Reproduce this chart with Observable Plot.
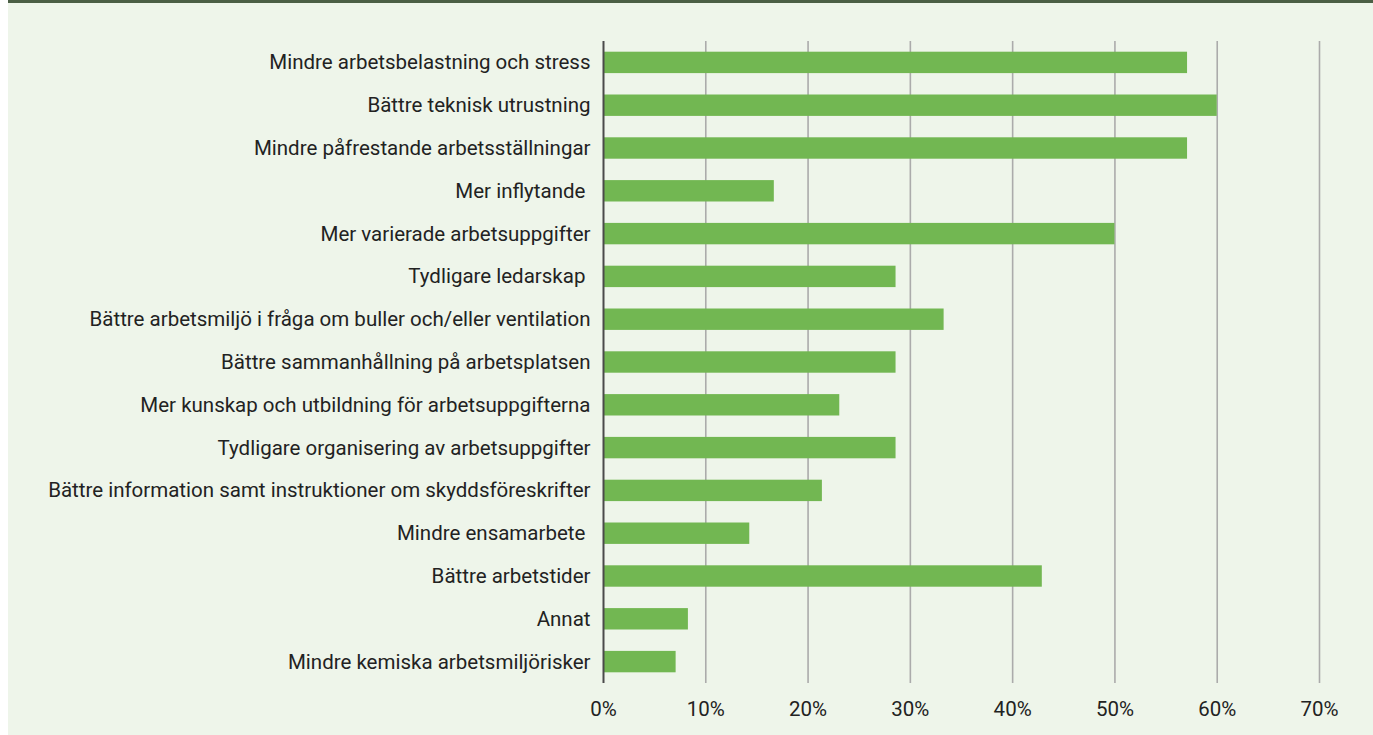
<!DOCTYPE html>
<html>
<head>
<meta charset="utf-8">
<script src="https://cdn.jsdelivr.net/npm/d3@7"></script>
<script src="https://cdn.jsdelivr.net/npm/@observablehq/plot@0.6"></script>
<style>
  html, body { margin: 0; padding: 0; background: #ffffff; }
  #frame {
    margin-left: 8px;
    width: 1365px;
    border-top: 3px solid #4b5f45;
    background: #eef5ea;
  }
  #frame svg { display: block; background: transparent; }
</style>
</head>
<body>
<div id="frame"></div>
<script>
// Svar i procent per förbättringsområde, i visningsordning uppifrån
const categories = [
  "Mindre arbetsbelastning och stress",
  "Bättre teknisk utrustning",
  "Mindre påfrestande arbetsställningar",
  "Mer inflytande ",
  "Mer varierade arbetsuppgifter",
  "Tydligare ledarskap ",
  "Bättre arbetsmiljö i fråga om buller och/eller ventilation",
  "Bättre sammanhållning på arbetsplatsen",
  "Mer kunskap och utbildning för arbetsuppgifterna",
  "Tydligare organisering av arbetsuppgifter",
  "Bättre information samt instruktioner om skyddsföreskrifter",
  "Mindre ensamarbete ",
  "Bättre arbetstider",
  "Annat",
  "Mindre kemiska arbetsmiljörisker"
];
const values = [57.1, 60.0, 57.1, 16.7, 50.0, 28.6, 33.3, 28.6, 23.1, 28.6, 21.4, 14.3, 42.9, 8.3, 7.1];
const xTicks = [0, 10, 20, 30, 40, 50, 60, 70];

const data = categories.map((c, i) => ({category: c, value: values[i]}));

const chart = Plot.plot({
  width: 1365,
  height: 732,
  marginLeft: 595,
  marginRight: 54,
  marginTop: 38,
  marginBottom: 52,
  style: {fontFamily: "Roboto, 'Noto Sans', sans-serif", fontSize: "20.5px", color: "#222222", background: "transparent"},
  x: {domain: [0, 70], ticks: xTicks, tickFormat: d => d + "%", label: null, tickSize: 0, tickPadding: 18},
  y: {domain: categories, label: null, tickSize: 0, tickPadding: 13, paddingInner: 0.5, paddingOuter: 0.25, round: false},
  marks: [
    Plot.ruleX(xTicks.filter(d => d > 0), {stroke: "#ababab", strokeWidth: 1.6}),
    Plot.barX(data, {y: "category", x: "value", fill: "#72b752"}),
    Plot.ruleX([0], {stroke: "#4a4a4a", strokeWidth: 2})
  ]
});

document.getElementById("frame").appendChild(chart);
</script>
</body>
</html>
